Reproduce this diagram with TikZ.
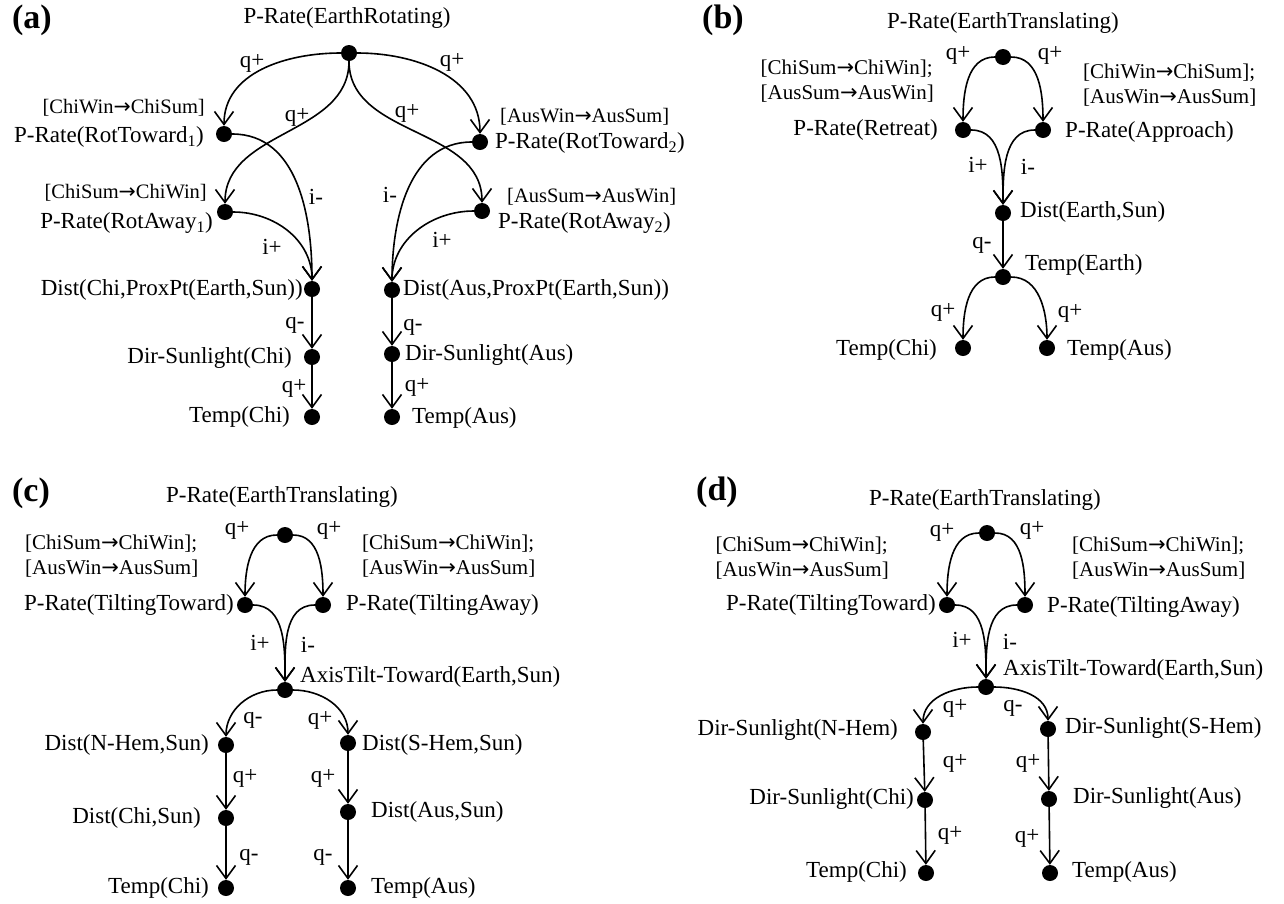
\documentclass[tikz,border=0pt]{standalone}
\usepackage{fontspec}
\setmainfont{Liberation Serif}
\newfontfamily\arrfont{DejaVu Sans}
\usetikzlibrary{arrows.meta}
\newcommand\lblfont{\fontsize{23}{27}\selectfont}
\newcommand\annfont{\fontsize{21}{25}\selectfont}
\newcommand\annafont{\fontsize{20.5}{24}\selectfont}
\newcommand\panfont{\fontsize{34}{40}\selectfont\bfseries}
\newcommand\ra{{\arrfont →}}
\tikzset{
  dot/.style={circle, fill=black, inner sep=0pt, minimum size=16pt},
  lbl/.style={font=\lblfont, inner sep=0pt},
  ann/.style={font=\annfont, inner sep=0pt, align=left},
  anna/.style={font=\annafont, inner sep=0pt},
  elab/.style={font=\lblfont, inner sep=0pt},
  arr/.style={line width=1.6pt, -{Straight Barb[length=13pt,width=19pt,line width=1.6pt]}},
  panel/.style={font=\panfont, inner sep=0pt},
}
\begin{document}
\begin{tikzpicture}[x=1pt,y=1pt]
\useasboundingbox (0,0) rectangle (1284,-903);
% ================= (a) =================
\node[panel] (pa) at (32,-20) {(a)};
\node[lbl] (ta) at (347,-18) {P-Rate(EarthRotating)};
\node[dot] (a0) at (349,-53) {};
\node[dot] (aT1) at (224,-134) {};
\node[lbl,anchor=east] (aT1l) at (204,-137) {P-Rate(RotToward\textsubscript{1})};
\node[anna,anchor=east] (aT1n) at (205,-108) {[ChiWin\ra ChiSum]};
\node[dot] (aA1) at (225,-212) {};
\node[lbl,anchor=east] (aA1l) at (213,-223) {P-Rate(RotAway\textsubscript{1})};
\node[anna,anchor=east] (aA1n) at (207,-193) {[ChiSum\ra ChiWin]};
\node[dot] (aD1) at (312,-289) {};
\node[lbl,anchor=east] (aD1l) at (303,-290) {Dist(Chi,ProxPt(Earth,Sun))};
\node[dot] (aS1) at (312,-357) {};
\node[lbl,anchor=east] (aS1l) at (292,-358) {Dir-Sunlight(Chi)};
\node[dot] (aP1) at (312,-417) {};
\node[lbl,anchor=east] (aP1l) at (290,-417) {Temp(Chi)};
\node[dot] (aT2) at (480,-142) {};
\node[lbl,anchor=west] (aT2l) at (495,-143) {P-Rate(RotToward\textsubscript{2})};
\node[anna,anchor=west] (aT2n) at (500,-117) {[AusWin\ra AusSum]};
\node[dot] (aA2) at (482,-211) {};
\node[lbl,anchor=west] (aA2l) at (498,-223) {P-Rate(RotAway\textsubscript{2})};
\node[anna,anchor=west] (aA2n) at (507,-197) {[AusSum\ra AusWin]};
\node[dot] (aD2) at (392,-290) {};
\node[lbl,anchor=west] (aD2l) at (403,-290) {Dist(Aus,ProxPt(Earth,Sun))};
\node[dot] (aS2) at (392,-354) {};
\node[lbl,anchor=west] (aS2l) at (405,-355) {Dir-Sunlight(Aus)};
\node[dot] (aP2) at (392,-417) {};
\node[lbl,anchor=west] (aP2l) at (412,-418) {Temp(Aus)};
\draw[arr] (a0) to[out=180,in=90] (aT1);
\draw[arr] (a0) to[out=-90,in=90] (aA1);
\draw[arr] (a0) to[out=0,in=90] (aT2);
\draw[arr] (a0) to[out=-90,in=90] (aA2);
\draw[arr] (aT1) to[out=0,in=90] (aD1);
\draw[arr] (aA1) to[out=0,in=90] (aD1);
\draw[arr] (aT2) to[out=180,in=90] (aD2);
\draw[arr] (aA2) to[out=180,in=90] (aD2);
\draw[arr] (aD1) -- (aS1);
\draw[arr] (aS1) -- (aP1);
\draw[arr] (aD2) -- (aS2);
\draw[arr] (aS2) -- (aP2);
\node[elab] (ea1) at (252,-63) {q+};
\node[elab] (ea2) at (297,-117) {q+};
\node[elab] (ea3) at (452,-62) {q+};
\node[elab] (ea4) at (407,-113) {q+};
\node[elab] (ea5) at (316,-197) {i-};
\node[elab] (ea6) at (272,-247) {i+};
\node[elab] (ea7) at (390,-195) {i-};
\node[elab] (ea8) at (442,-240) {i+};
\node[elab] (ea9) at (295,-325) {q-};
\node[elab] (ea10) at (294,-388) {q+};
\node[elab] (ea11) at (413,-327) {q-};
\node[elab] (ea12) at (417,-387) {q+};
% ================= (b) =================
\node[panel] (pb) at (723,-20) {(b)};
\node[lbl] (tb) at (1003,-23) {P-Rate(EarthTranslating)};
\node[dot] (b0) at (1003,-57) {};
\node[dot] (bR) at (963,-130) {};
\node[lbl,anchor=east] (bRl) at (938,-130) {P-Rate(Retreat)};
\node[dot] (bA) at (1043,-130) {};
\node[lbl,anchor=west] (bAl) at (1065,-132) {P-Rate(Approach)};
\node[ann,anchor=east] (bRn) at (934,-81) {[ChiSum\ra ChiWin];\\{}[AusSum\ra AusWin]};
\node[ann,anchor=west] (bAn) at (1083,-85) {[ChiWin\ra ChiSum];\\{}[AusWin\ra AusSum]};
\node[dot] (bD) at (1003,-213) {};
\node[lbl,anchor=west] (bDl) at (1020,-212) {Dist(Earth,Sun)};
\node[dot] (bE) at (1003,-277) {};
\node[lbl,anchor=west] (bEl) at (1025,-265) {Temp(Earth)};
\node[dot] (bC) at (963,-348) {};
\node[lbl,anchor=east] (bCl) at (937,-350) {Temp(Chi)};
\node[dot] (bU) at (1047,-348) {};
\node[lbl,anchor=west] (bUl) at (1067,-350) {Temp(Aus)};
\draw[arr] (b0) to[out=180,in=90] (bR);
\draw[arr] (b0) to[out=0,in=90] (bA);
\draw[arr] (bR) to[out=0,in=90] (bD);
\draw[arr] (bA) to[out=180,in=90] (bD);
\draw[arr] (bD) -- (bE);
\draw[arr] (bE) to[out=180,in=90] (bC);
\draw[arr] (bE) to[out=0,in=90] (bU);
\node[elab] (eb1) at (958,-55) {q+};
\node[elab] (eb2) at (1050,-55) {q+};
\node[elab] (eb3) at (978,-165) {i+};
\node[elab] (eb4) at (1028,-167) {i-};
\node[elab] (eb5) at (982,-245) {q-};
\node[elab] (eb6) at (943,-312) {q+};
\node[elab] (eb7) at (1070,-313) {q+};
% ================= (c) =================
\node[panel] (pc) at (31,-493) {(c)};
\node[lbl] (tc) at (282,-497) {P-Rate(EarthTranslating)};
\node[dot] (c0) at (285,-535) {};
\node[dot] (cTT) at (245,-605) {};
\node[lbl,anchor=east] (cTTl) at (234,-605) {P-Rate(TiltingToward)};
\node[dot] (cTA) at (323,-605) {};
\node[lbl,anchor=west] (cTAl) at (346,-605) {P-Rate(TiltingAway)};
\node[ann,anchor=west] (cTTn) at (25,-556) {[ChiSum\ra ChiWin];\\{}[AusWin\ra AusSum]};
\node[ann,anchor=west] (cTAn) at (362,-556) {[ChiSum\ra ChiWin];\\{}[AusWin\ra AusSum]};
\node[dot] (cAx) at (285,-690) {};
\node[lbl,anchor=west] (cAxl) at (300,-677) {AxisTilt-Toward(Earth,Sun)};
\node[dot] (cN) at (226,-745) {};
\node[lbl,anchor=east] (cNl) at (209,-745) {Dist(N-Hem,Sun)};
\node[dot] (cS) at (348,-743) {};
\node[lbl,anchor=west] (cSl) at (362,-745) {Dist(S-Hem,Sun)};
\node[dot] (cC) at (226,-818) {};
\node[lbl,anchor=east] (cCl) at (201,-818) {Dist(Chi,Sun)};
\node[dot] (cA) at (348,-812) {};
\node[lbl,anchor=west] (cAl) at (371,-812) {Dist(Aus,Sun)};
\node[dot] (cTc) at (226,-888) {};
\node[lbl,anchor=east] (cTcl) at (209,-888) {Temp(Chi)};
\node[dot] (cTa) at (348,-888) {};
\node[lbl,anchor=west] (cTal) at (371,-888) {Temp(Aus)};
\draw[arr] (c0) to[out=180,in=90] (cTT);
\draw[arr] (c0) to[out=0,in=90] (cTA);
\draw[arr] (cTT) to[out=0,in=90] (cAx);
\draw[arr] (cTA) to[out=180,in=90] (cAx);
\draw[arr] (cAx) to[out=180,in=90] (cN);
\draw[arr] (cAx) to[out=0,in=90] (cS);
\draw[arr] (cN) -- (cC);
\draw[arr] (cS) -- (cA);
\draw[arr] (cC) -- (cTc);
\draw[arr] (cA) -- (cTa);
\node[elab] (ec1) at (237,-530) {q+};
\node[elab] (ec2) at (329,-530) {q+};
\node[elab] (ec3) at (260,-643) {i+};
\node[elab] (ec4) at (308,-645) {i-};
\node[elab] (ec5) at (253,-720) {q-};
\node[elab] (ec6) at (320,-720) {q+};
\node[elab] (ec7) at (245,-778) {q+};
\node[elab] (ec8) at (323,-778) {q+};
\node[elab] (ec9) at (249,-857) {q-};
\node[elab] (ec10) at (323,-857) {q-};
% ================= (d) =================
\node[panel] (pd) at (717,-492) {(d)};
\node[lbl] (td) at (985,-500) {P-Rate(EarthTranslating)};
\node[dot] (d0) at (987,-533) {};
\node[dot] (dTT) at (947,-605) {};
\node[lbl,anchor=east] (dTTl) at (936,-605) {P-Rate(TiltingToward)};
\node[dot] (dTA) at (1025,-605) {};
\node[lbl,anchor=west] (dTAl) at (1047,-607) {P-Rate(TiltingAway)};
\node[ann,anchor=east] (dTTn) at (889,-558) {[ChiSum\ra ChiWin];\\{}[AusWin\ra AusSum]};
\node[ann,anchor=west] (dTAn) at (1072,-558) {[ChiSum\ra ChiWin];\\{}[AusWin\ra AusSum]};
\node[dot] (dAx) at (986,-687) {};
\node[lbl,anchor=west] (dAxl) at (1003,-670) {AxisTilt-Toward(Earth,Sun)};
\node[dot] (dN) at (923,-732) {};
\node[lbl,anchor=east] (dNl) at (898,-730) {Dir-Sunlight(N-Hem)};
\node[dot] (dS) at (1048,-729) {};
\node[lbl,anchor=west] (dSl) at (1065,-728) {Dir-Sunlight(S-Hem)};
\node[dot] (dC) at (925,-800) {};
\node[lbl,anchor=east] (dCl) at (914,-799) {Dir-Sunlight(Chi)};
\node[dot] (dA) at (1049,-799) {};
\node[lbl,anchor=west] (dAl) at (1073,-798) {Dir-Sunlight(Aus)};
\node[dot] (dTc) at (926,-873) {};
\node[lbl,anchor=east] (dTcl) at (907,-872) {Temp(Chi)};
\node[dot] (dTa) at (1050,-873) {};
\node[lbl,anchor=west] (dTal) at (1072,-872) {Temp(Aus)};
\draw[arr] (d0) to[out=180,in=90] (dTT);
\draw[arr] (d0) to[out=0,in=90] (dTA);
\draw[arr] (dTT) to[out=0,in=90] (dAx);
\draw[arr] (dTA) to[out=180,in=90] (dAx);
\draw[arr] (dAx) to[out=180,in=90] (dN);
\draw[arr] (dAx) to[out=0,in=90] (dS);
\draw[arr] (dN) -- (dC);
\draw[arr] (dS) -- (dA);
\draw[arr] (dC) -- (dTc);
\draw[arr] (dA) -- (dTa);
\node[elab] (ed1) at (942,-532) {q+};
\node[elab] (ed2) at (1032,-530) {q+};
\node[elab] (ed3) at (962,-640) {i+};
\node[elab] (ed4) at (1010,-642) {i-};
\node[elab] (ed5) at (955,-708) {q+};
\node[elab] (ed6) at (1013,-708) {q-};
\node[elab] (ed7) at (955,-763) {q+};
\node[elab] (ed8) at (1028,-763) {q+};
\node[elab] (ed9) at (950,-835) {q+};
\node[elab] (ed10) at (1027,-838) {q+};
\end{tikzpicture}
\end{document}
